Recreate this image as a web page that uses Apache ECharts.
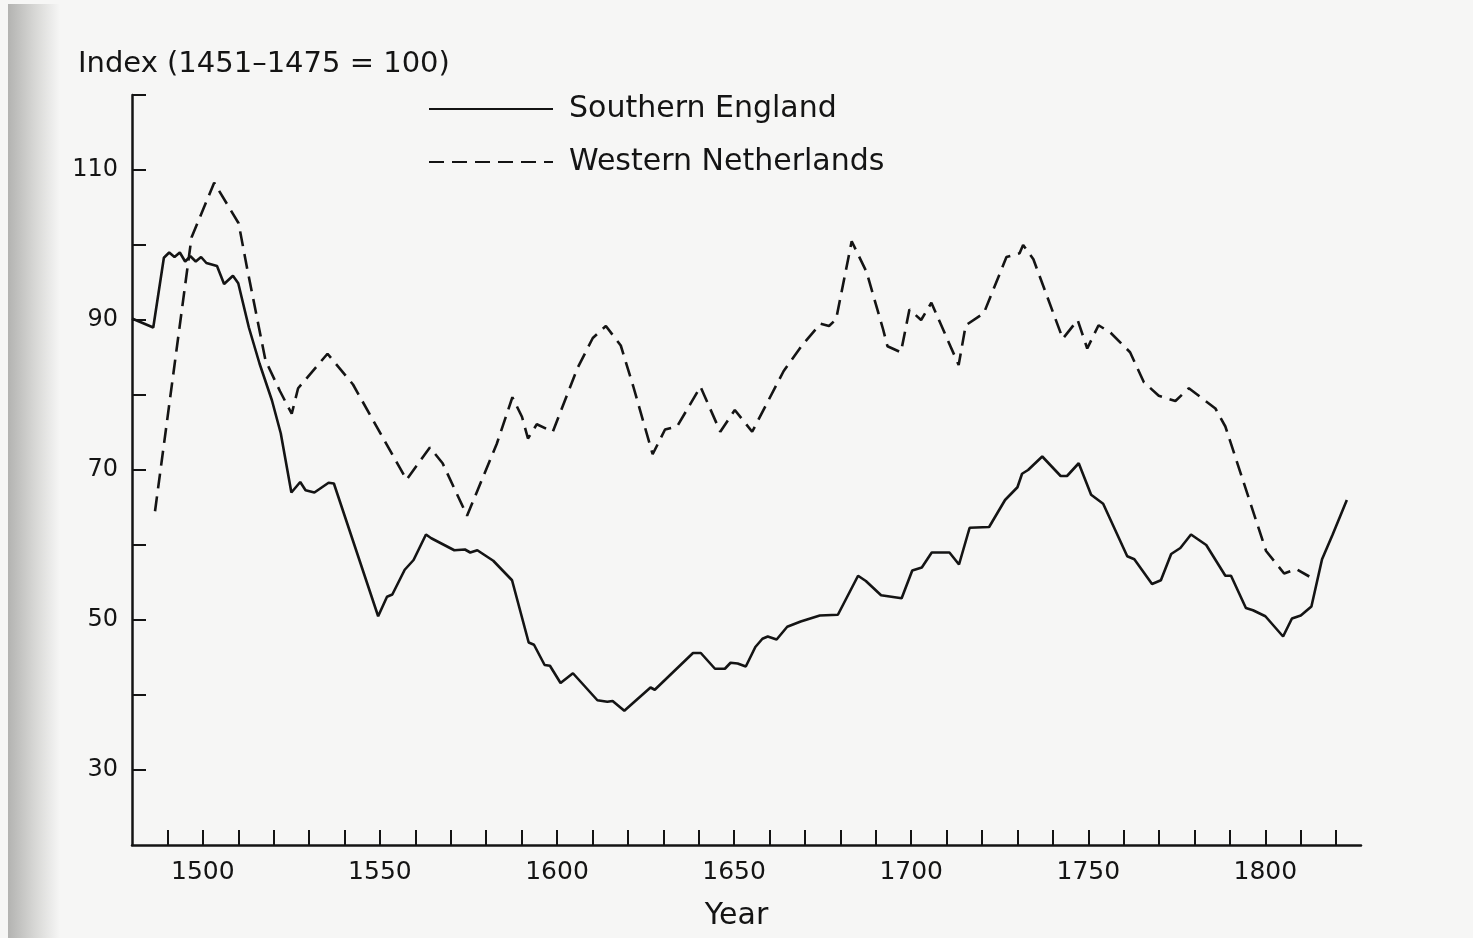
<!DOCTYPE html>
<html>
<head>
<meta charset="utf-8">
<script src="https://cdn.jsdelivr.net/npm/echarts@6/dist/echarts.min.js"></script>
<style>
  html, body { margin: 0; padding: 0; background: #f6f6f5; }
  #chart { width: 1473px; height: 938px; }
</style>
</head>
<body>
<div id="chart"></div>
<script>
// ---- Data ----
const seriesNames = ['Southern England', 'Western Netherlands'];

const englandYears = [1480, 1486, 1489, 1490.5, 1492, 1493.5, 1495, 1496.5, 1498, 1499.5,
  1501, 1504, 1506, 1508.5, 1510, 1513, 1516, 1519.5, 1522, 1525,
  1527.5, 1529, 1531.5, 1535.5, 1537, 1549.5, 1552, 1553.5, 1557, 1559.5,
  1563, 1564.5, 1571, 1574, 1575.5, 1577.5, 1582, 1587.3, 1592, 1593.5,
  1596.5, 1598, 1601, 1604.5, 1611.4, 1614.2, 1615.7, 1619, 1626.4, 1627.6,
  1638.4, 1640.6, 1644.6, 1647.4, 1649, 1651, 1653.3, 1656, 1658, 1659.5,
  1662, 1665, 1668.8, 1674.2, 1679.3, 1685, 1687.2, 1691.5, 1697.3, 1700.3,
  1703, 1705.8, 1710.8, 1713.5, 1716.5, 1722, 1726.5, 1730, 1731.3, 1733,
  1737, 1742.2, 1744, 1747.3, 1750.8, 1754.2, 1761, 1763, 1768, 1770.5,
  1773.4, 1776, 1779, 1783.3, 1788.7, 1790.3, 1794.5, 1796.5, 1800, 1805,
  1807.5, 1810, 1813, 1816, 1819, 1823];
const englandValues = [90.2, 89.0, 98.3, 99.0, 98.4, 99.0, 97.8, 98.5, 97.8, 98.4,
  97.6, 97.2, 94.8, 95.9, 94.9, 89.0, 84.2, 79.3, 74.9, 67.0,
  68.4, 67.3, 67.0, 68.3, 68.2, 50.5, 53.1, 53.4, 56.7, 58.0,
  61.4, 60.9, 59.3, 59.4, 59.0, 59.3, 57.9, 55.3, 47.0, 46.7,
  44.0, 43.9, 41.6, 42.9, 39.3, 39.1, 39.2, 37.9, 41.0, 40.7,
  45.6, 45.6, 43.5, 43.5, 44.3, 44.2, 43.8, 46.4, 47.5, 47.8,
  47.4, 49.1, 49.8, 50.6, 50.7, 55.9, 55.2, 53.3, 52.9, 56.6,
  57.0, 59.0, 59.0, 57.4, 62.3, 62.4, 66.0, 67.7, 69.5, 70.0,
  71.8, 69.2, 69.2, 70.9, 66.7, 65.5, 58.5, 58.1, 54.8, 55.3,
  58.8, 59.6, 61.4, 60.0, 55.9, 55.9, 51.6, 51.3, 50.5, 47.8,
  50.2, 50.6, 51.8, 58.1, 61.4, 66.0];

const netherlandsYears = [1486.5, 1496.8, 1503.2, 1510.1, 1512.5, 1517.7, 1521.8, 1525.1, 1526.9, 1535.2,
  1542.4, 1557.5, 1564.1, 1567.7, 1574.6, 1583, 1587.4, 1590.1, 1591.8, 1594.3,
  1598.8, 1605.8, 1610.1, 1613.8, 1618, 1621.5, 1627, 1630.5, 1633.9, 1640.5,
  1646.1, 1650.2, 1655.1, 1664, 1669.3, 1674.4, 1676.8, 1678.8, 1683.2, 1687.4,
  1692.1, 1693.3, 1697.1, 1699.5, 1702.8, 1705.7, 1713.4, 1715.4, 1720.5, 1726.9,
  1730.6, 1731.6, 1734.5, 1742.8, 1747, 1749.7, 1752.9, 1756.3, 1761.8, 1765.7,
  1769.9, 1774.6, 1778.4, 1785.9, 1788.7, 1800.2, 1805.3, 1808.7, 1812.4];
const netherlandsValues = [64.5, 101.0, 108.3, 102.9, 96.9, 84.6, 80.5, 77.5, 80.9, 85.5,
  81.4, 68.7, 73.0, 70.9, 63.9, 73.5, 79.7, 77.1, 74.2, 76.1,
  75.1, 83.6, 87.6, 89.2, 86.6, 81.2, 72.1, 75.4, 75.8, 81.1,
  75.1, 78.0, 75.1, 83.2, 86.7, 89.5, 89.2, 90.1, 100.5, 96.4,
  88.7, 86.5, 85.7, 91.4, 90.0, 92.3, 84.0, 89.3, 90.9, 98.4,
  98.9, 100.0, 98.1, 87.5, 90.0, 86.2, 89.3, 88.3, 85.7, 81.7,
  79.9, 79.2, 80.9, 78.2, 75.8, 59.2, 56.2, 56.8, 55.8];

const xTickValues = [1490, 1500, 1510, 1520, 1530, 1540, 1550, 1560, 1570, 1580, 1590,
  1600, 1610, 1620, 1630, 1640, 1650, 1660, 1670, 1680, 1690, 1700, 1710,
  1720, 1730, 1740, 1750, 1760, 1770, 1780, 1790, 1800, 1810, 1820];
const xLabelValues = [1500, 1550, 1600, 1650, 1700, 1750, 1800];
const yTickValues = [30, 40, 50, 60, 70, 80, 90, 100, 110, 120];
const yLabelValues = [30, 50, 70, 90, 110];

const yAxisTitle = 'Index (1451\u20131475 = 100)';
const xAxisTitle = 'Year';

// ---- Chart ----
const zip = (xs, ys) => xs.map((x, i) => [x, ys[i]]);
const FONT = 'DejaVu Sans';
const INK = '#141414';

const chart = echarts.init(document.getElementById('chart'), null, { renderer: 'canvas' });
chart.setOption({
  backgroundColor: '#f6f6f5',
  animation: false,
  textStyle: { fontFamily: FONT, color: INK },
  graphic: [
    {
      type: 'rect',
      silent: true,
      z: -10,
      shape: { x: 8, y: 4, width: 52, height: 934 },
      style: {
        fill: new echarts.graphic.LinearGradient(0, 0, 1, 0, [
          { offset: 0, color: '#b3b3b1' },
          { offset: 0.5, color: '#d6d6d4' },
          { offset: 1, color: '#f6f6f5' }
        ])
      }
    }
  ],
  grid: { left: 132, top: 95, width: 1229, height: 750, containLabel: false, outerBoundsMode: 'none' },
  legend: {
    orient: 'vertical',
    left: 428,
    top: 94,
    padding: 0,
    itemWidth: 124,
    itemHeight: 30,
    itemGap: 23,
    selectedMode: false,
    itemStyle: { opacity: 0 },
    textStyle: { fontFamily: FONT, fontSize: 30, color: INK, lineHeight: 30, padding: [0, 0, 0, 11] },
    data: seriesNames
  },
  xAxis: {
    type: 'value',
    min: 1480,
    max: 1827,
    name: xAxisTitle,
    nameLocation: 'middle',
    nameGap: 56,
    nameTextStyle: { fontFamily: FONT, fontSize: 30, color: INK, padding: [0, 20, 0, 0] },
    splitLine: { show: false },
    axisLine: { show: true, onZero: false, lineStyle: { color: INK, width: 2.5 } },
    axisTick: { show: true, inside: true, length: 15, customValues: xTickValues, lineStyle: { color: INK, width: 2 } },
    axisLabel: { customValues: xLabelValues, formatter: v => String(v), fontFamily: FONT, fontSize: 25, color: INK, margin: 15 }
  },
  yAxis: {
    type: 'value',
    min: 20,
    max: 120,
    interval: 10,
    name: yAxisTitle,
    nameLocation: 'end',
    nameGap: 16,
    nameTextStyle: { fontFamily: FONT, fontSize: 29, color: INK, align: 'left', padding: [0, 0, 0, -54] },
    splitLine: { show: false },
    axisLine: { show: true, onZero: false, lineStyle: { color: INK, width: 2.5 } },
    axisTick: { show: true, inside: true, length: 14, customValues: yTickValues, lineStyle: { color: INK, width: 2 } },
    axisLabel: { customValues: yLabelValues, formatter: v => String(v), fontFamily: FONT, fontSize: 24, color: INK, margin: 14 }
  },
  series: [
    {
      name: seriesNames[0],
      type: 'line',
      data: zip(englandYears, englandValues),
      symbol: 'none',
      color: INK,
      lineStyle: { color: INK, width: 2.6, type: 'solid' }
    },
    {
      name: seriesNames[1],
      type: 'line',
      data: zip(netherlandsYears, netherlandsValues),
      symbol: 'none',
      color: INK,
      lineStyle: { color: INK, width: 2.6, type: [15, 8] }
    }
  ]
});
</script>
</body>
</html>
